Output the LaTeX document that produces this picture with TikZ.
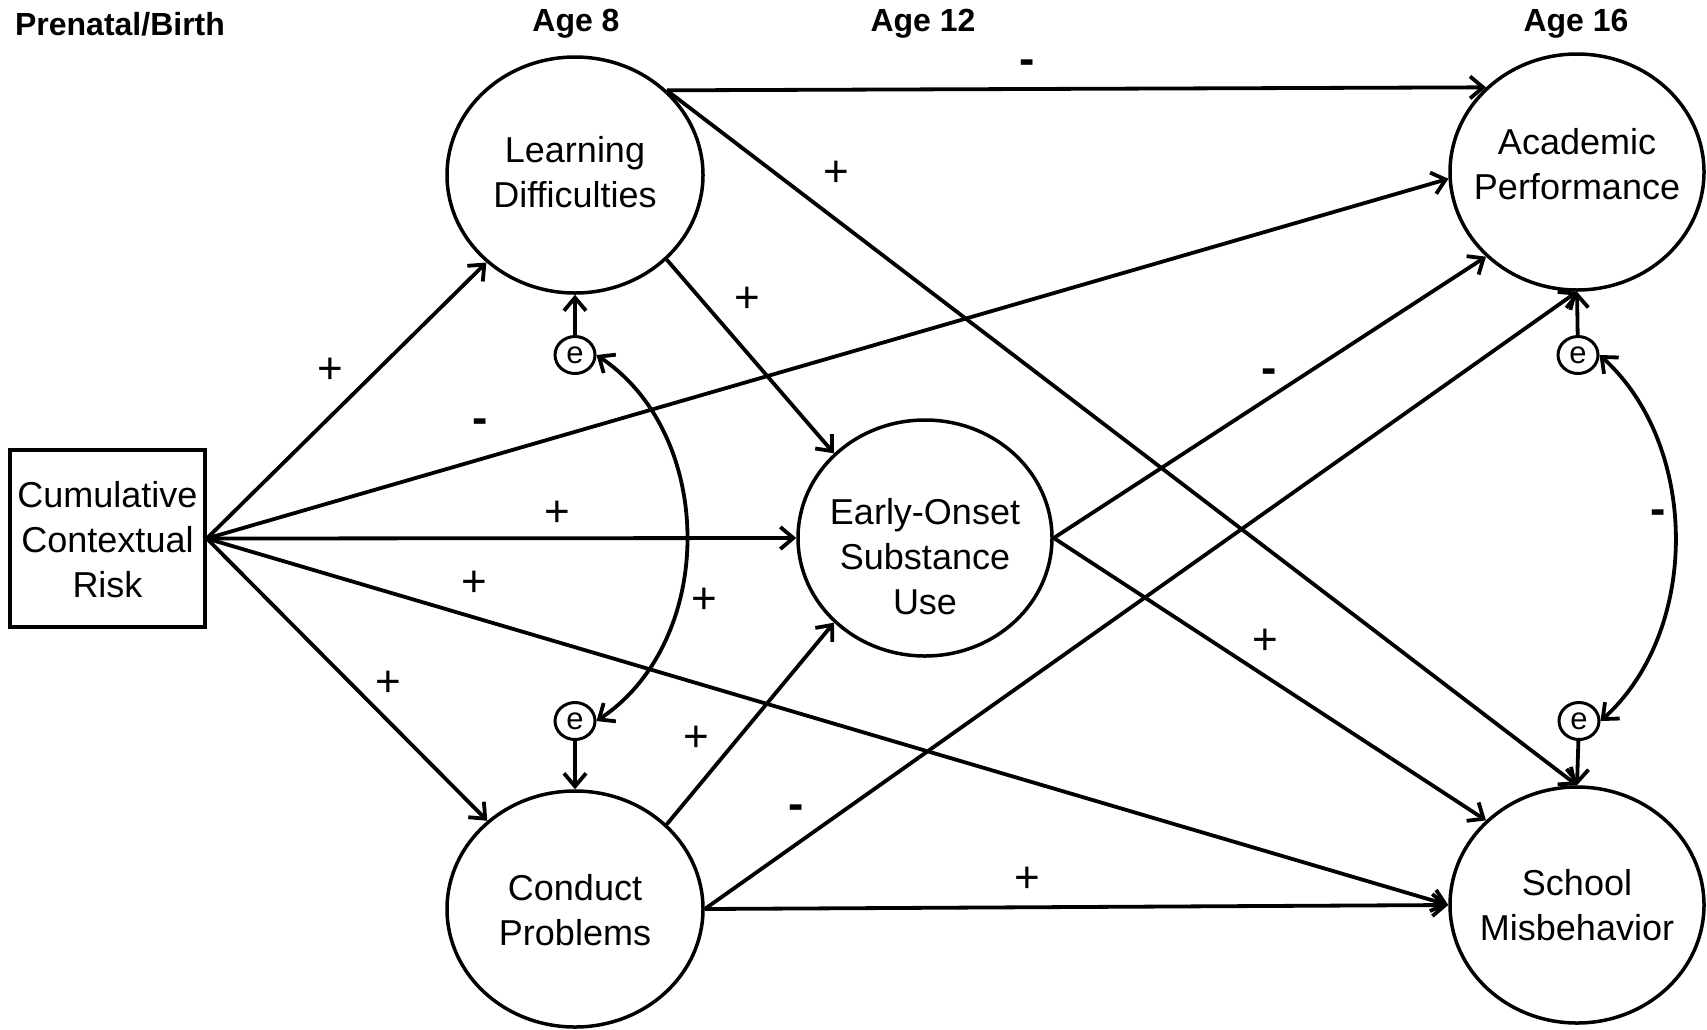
\documentclass[tikz,border=0pt]{standalone}
\usepackage{fontspec}
\setmainfont{Liberation Sans}
\usetikzlibrary{arrows.meta,shapes.geometric}
\begin{document}
\begin{tikzpicture}[x=1pt,y=-1pt,
  lat/.style={draw, ellipse, line width=3.5pt, minimum width=256pt, minimum height=236pt, inner sep=0pt},
  txt/.style={align=center, font=\fontsize{36}{45}\selectfont, inner sep=0pt},
  err/.style={draw, ellipse, line width=3pt, minimum width=40pt, minimum height=37pt, inner sep=0pt, font=\fontsize{31}{32}\selectfont},
  hdr/.style={font=\fontsize{32}{36}\selectfont\bfseries, inner sep=0pt},
  sgn/.style={font=\fontsize{44}{46}\selectfont, inner sep=0pt},
  neg/.style={font=\fontsize{46}{48}\selectfont\bfseries, inner sep=0pt},
  conn/.style={line width=3.8pt, -{Straight Barb[length=13pt,width=22pt]}},
  cov/.style={line width=3.8pt, {Straight Barb[length=13pt,width=22pt]}-{Straight Barb[length=13pt,width=22pt]}},
]
\useasboundingbox (0,0) rectangle (1707,1029);
% headers
\node[hdr] (h0) at (120,24) {Prenatal/Birth};
\node[hdr] (h8) at (576,24) {Age 8};
\node[hdr] (h12) at (923,24) {Age 12};
\node[hdr] (h16) at (1576,24) {Age 16};
% main nodes
\node[draw, line width=3.6pt, minimum width=195pt, minimum height=177pt, inner sep=0pt] (CCR) at (107.5,538.5) {};
\node[txt] (CCRt) at (107.5,540) {Cumulative\\Contextual\\Risk};
\node[lat] (LD) at (575,175) {};
\node[txt] (LDt) at (575,172) {Learning\\Difficulties};
\node[lat] (CP) at (575,909) {};
\node[txt] (CPt) at (575,910) {Conduct\\Problems};
\node[lat, minimum width=254pt] (EOSU) at (925,538) {};
\node[txt] (EOSUt) at (925,557) {Early-Onset\\Substance\\Use};
\node[lat, minimum width=254pt] (AP) at (1577,172) {};
\node[txt] (APt) at (1577,164) {Academic\\Performance};
\node[lat, minimum width=254pt] (SM) at (1577,905) {};
\node[txt] (SMt) at (1577,905) {School\\Misbehavior};
% error terms
\node[err] (LDe) at (575,355) {e};
\node[err] (CPe) at (575,721) {e};
\node[err] (APe) at (1578,355) {e};
\node[err] (SMe) at (1579,721) {e};
% connectors
\draw[conn] (CCR.east) -- (LD);
\draw[conn] (CCR.east) -- (CP);
\draw[conn] (CCR.east) -- (AP.183);
\draw[conn] (CCR.east) -- (EOSU.west);
\draw[conn] (CCR.east) -- (SM.west);
\draw[conn] (LD.north east) -- (AP.north west);
\draw[conn] (LD.north east) -- (SM.north);
\draw[conn] (LD.south east) -- (EOSU.north west);
\draw[conn] (CP.north east) -- (EOSU.south west);
\draw[conn] (CP.east) -- (AP.south);
\draw[conn] (CP.east) -- (SM.west);
\draw[conn] (EOSU.east) -- (AP.south west);
\draw[conn] (EOSU.east) -- (SM.north west);
\draw[conn] (LDe) -- (LD.south);
\draw[conn] (CPe) -- (CP.north);
\draw[conn] (APe) -- (AP.south);
\draw[conn] (SMe) -- (SM.north);
\draw[cov] (LDe.east) .. controls +(120,80) and +(120,-80) .. (CPe.east);
\draw[cov] (APe.east) .. controls +(100,90) and +(100,-90) .. (SMe.east);
% signs
\node[sgn] (s1) at (330,371) {+};
\node[sgn] (s2) at (388,684) {+};
\node[neg] (s3) at (480,426) {-};
\node[sgn] (s4) at (557,514) {+};
\node[sgn] (s5) at (474,584) {+};
\node[neg] (s6) at (1027,67) {-};
\node[sgn] (s7) at (836,174) {+};
\node[sgn] (s8) at (747,300) {+};
\node[sgn] (s9) at (696,739) {+};
\node[neg] (s10) at (796,812) {-};
\node[sgn] (s11) at (1027,880) {+};
\node[neg] (s12) at (1269,376) {-};
\node[sgn] (s13) at (1265,642) {+};
\node[sgn] (s14) at (704,601) {+};
\node[neg] (s15) at (1658,517) {-};
\end{tikzpicture}
\end{document}
